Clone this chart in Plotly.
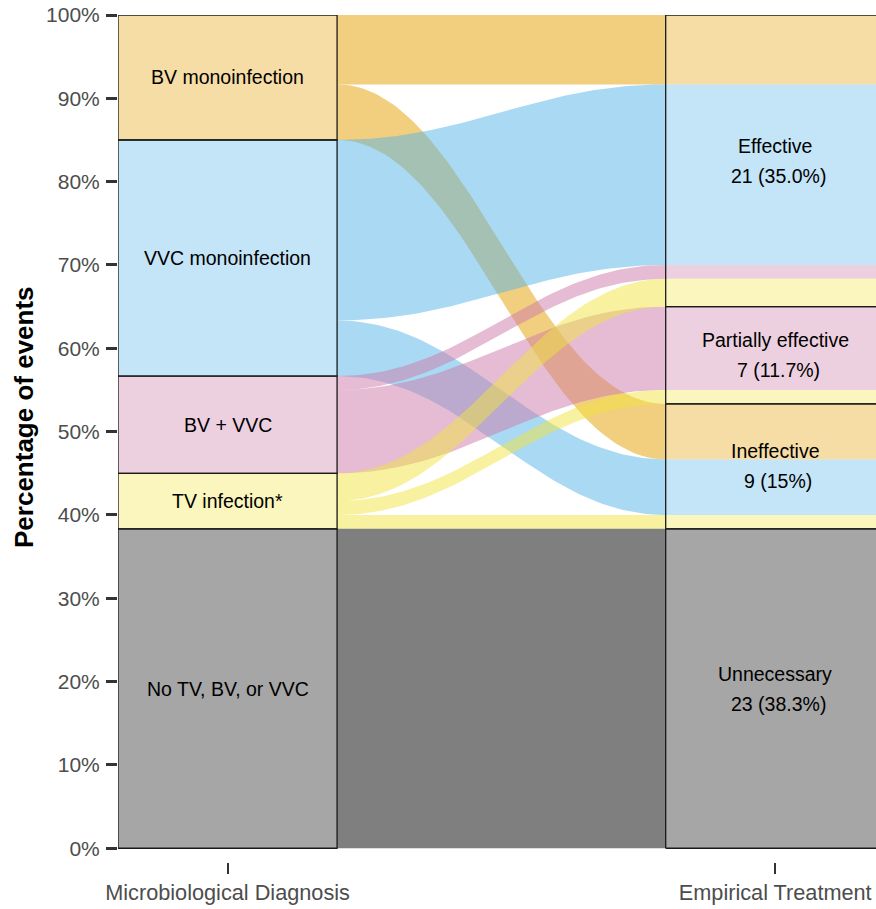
import numpy as np
import plotly.graph_objects as go

# ---------------- data ----------------
diagnoses = ["BV monoinfection", "VVC monoinfection", "BV + VVC", "TV infection*", "No TV, BV, or VVC"]
treatments = ["Effective", "Partially effective", "Ineffective", "Unnecessary"]
treatment_count_text = ["21 (35.0%)", "7 (11.7%)", "9 (15%)", "23 (38.3%)"]
axis_labels = ["Microbiological Diagnosis", "Empirical Treatment"]

# events per diagnosis, split by empirical treatment outcome
# (Effective, Partially effective, Ineffective, Unnecessary)
bv_mono = [5, 0, 4, 0]
vvc_mono = [13, 0, 4, 0]
bv_vvc = [1, 6, 0, 0]
tv_inf = [2, 1, 1, 0]
no_inf = [0, 0, 0, 23]

y_ticks = [0, 10, 20, 30, 40, 50, 60, 70, 80, 90, 100]
y_tick_text = [f"{v}%" for v in y_ticks]

base_colors = ["#E69F00", "#56B4E9", "#CC79A7", "#F0E442", "#000000"]
FLOW_ALPHA = 0.5
BOX_ALPHA = 0.35

# ---------------- computations ----------------
counts = np.array([bv_mono, vvc_mono, bv_vvc, tv_inf, no_inf], dtype=float)
N = counts.sum()
pct = counts / N * 100.0
n_d, n_t = pct.shape

diag_tot = pct.sum(axis=1)
treat_tot = pct.sum(axis=0)
diag_top = 100.0 - np.concatenate([[0], np.cumsum(diag_tot)[:-1]])
treat_top = 100.0 - np.concatenate([[0], np.cumsum(treat_tot)[:-1]])

left_top = np.zeros_like(pct)
right_top = np.zeros_like(pct)
for i in range(n_d):
    for j in range(n_t):
        left_top[i, j] = diag_top[i] - pct[i, :j].sum()
        right_top[i, j] = treat_top[j] - pct[:i, j].sum()

X_L, X_R = 1.0, 2.0
HW = 0.2


def rgba(hexc, a):
    h = hexc.lstrip("#")
    r, g, b = int(h[0:2], 16), int(h[2:4], 16), int(h[4:6], 16)
    return f"rgba({r},{g},{b},{a})"


def bez(x0, y0, x1, y1, k=0.4, n=80):
    s = np.linspace(0, 1, n)
    dx = x1 - x0
    px = [x0, x0 + k * dx, x1 - k * dx, x1]
    py = [y0, y0, y1, y1]
    b0 = (1 - s) ** 3
    b1 = 3 * (1 - s) ** 2 * s
    b2 = 3 * (1 - s) * s ** 2
    b3 = s ** 3
    xs = b0 * px[0] + b1 * px[1] + b2 * px[2] + b3 * px[3]
    ys = b0 * py[0] + b1 * py[1] + b2 * py[2] + b3 * py[3]
    return xs, ys


fig = go.Figure()

# flows
for i in range(n_d):
    for j in range(n_t):
        if counts[i, j] <= 0:
            continue
        lt, lb = left_top[i, j], left_top[i, j] - pct[i, j]
        rt, rb = right_top[i, j], right_top[i, j] - pct[i, j]
        xt, yt = bez(X_L + HW, lt, X_R - HW, rt)
        xb, yb = bez(X_R - HW, rb, X_L + HW, lb)
        fig.add_trace(go.Scatter(
            x=np.concatenate([xt, xb, xt[:1]]), y=np.concatenate([yt, yb, yt[:1]]),
            mode="lines", fill="toself", fillcolor=rgba(base_colors[i], FLOW_ALPHA),
            line=dict(width=0), hoverinfo="skip"))


def rect(x0, x1, y0, y1):
    return [x0, x1, x1, x0, x0], [y0, y0, y1, y1, y0]


# right stratum lodes (coloured by diagnosis)
for i in range(n_d):
    for j in range(n_t):
        if counts[i, j] <= 0:
            continue
        xs, ys = rect(X_R - HW, X_R + HW, right_top[i, j] - pct[i, j], right_top[i, j])
        fig.add_trace(go.Scatter(x=xs, y=ys, mode="lines", fill="toself",
                                 fillcolor=rgba(base_colors[i], BOX_ALPHA),
                                 line=dict(width=0), hoverinfo="skip"))

# left strata
for i in range(n_d):
    xs, ys = rect(X_L - HW, X_L + HW, diag_top[i] - diag_tot[i], diag_top[i])
    fig.add_trace(go.Scatter(x=xs, y=ys, mode="lines", fill="toself",
                             fillcolor=rgba(base_colors[i], BOX_ALPHA),
                             line=dict(color="#1a1a1a", width=1.3), hoverinfo="skip"))

# right strata outlines
for j in range(n_t):
    xs, ys = rect(X_R - HW, X_R + HW, treat_top[j] - treat_tot[j], treat_top[j])
    fig.add_trace(go.Scatter(x=xs, y=ys, mode="lines",
                             line=dict(color="#1a1a1a", width=1.3), hoverinfo="skip"))

FONT = "Liberation Sans, Arial, Helvetica, sans-serif"
annotations = []
for i in range(n_d):
    annotations.append(dict(x=X_L, y=diag_top[i] - diag_tot[i] / 2, text=diagnoses[i],
                            showarrow=False, font=dict(size=19.5, color="black", family=FONT)))
for j in range(n_t):
    yc = treat_top[j] - treat_tot[j] / 2
    annotations.append(dict(x=X_R, y=yc, text=treatments[j], yshift=15, showarrow=False,
                            font=dict(size=19.5, color="black", family=FONT)))
    annotations.append(dict(x=X_R, y=yc, text=treatment_count_text[j], yshift=-15, xshift=3,
                            showarrow=False, font=dict(size=19.5, color="black", family=FONT)))

annotations.append(dict(xref="paper", yref="paper", x=(24 - 118) / 758, y=(862 - 417) / 847,
                        text="<b>Percentage of events</b>", textangle=-90, showarrow=False,
                        xanchor="center", yanchor="middle",
                        font=dict(size=26, color="black", family=FONT)))

fig.update_layout(
    width=876, height=909,
    margin=dict(l=118, r=0, t=15, b=47),
    plot_bgcolor="white", paper_bgcolor="white",
    showlegend=False,
    font=dict(family=FONT),
    annotations=annotations,
    xaxis=dict(range=[0.8, 2.184], tickvals=[X_L, X_R], ticktext=axis_labels,
               ticks="outside", ticklen=11, tickwidth=2, tickcolor="#333333",
               tickfont=dict(size=21.7, color="#4D4D4D", family=FONT),
               ticklabeloverflow="allow",
               showgrid=False, zeroline=False, showline=False, fixedrange=True),
    yaxis=dict(range=[-1.65, 100], tickvals=y_ticks, ticktext=y_tick_text,
               ticks="outside", ticklen=11, tickwidth=2.5, tickcolor="#333333",
               tickfont=dict(size=21, color="#4D4D4D", family=FONT),
               ticklabeloverflow="allow", ticklabelstandoff=2,
               showgrid=False, zeroline=False, showline=False, fixedrange=True),
)

# remove the browser's default 8 px page margin so the figure fills the window
fig.write_html("out.html", config={"displayModeBar": False},
               post_script="document.body.style.margin='0px';")
